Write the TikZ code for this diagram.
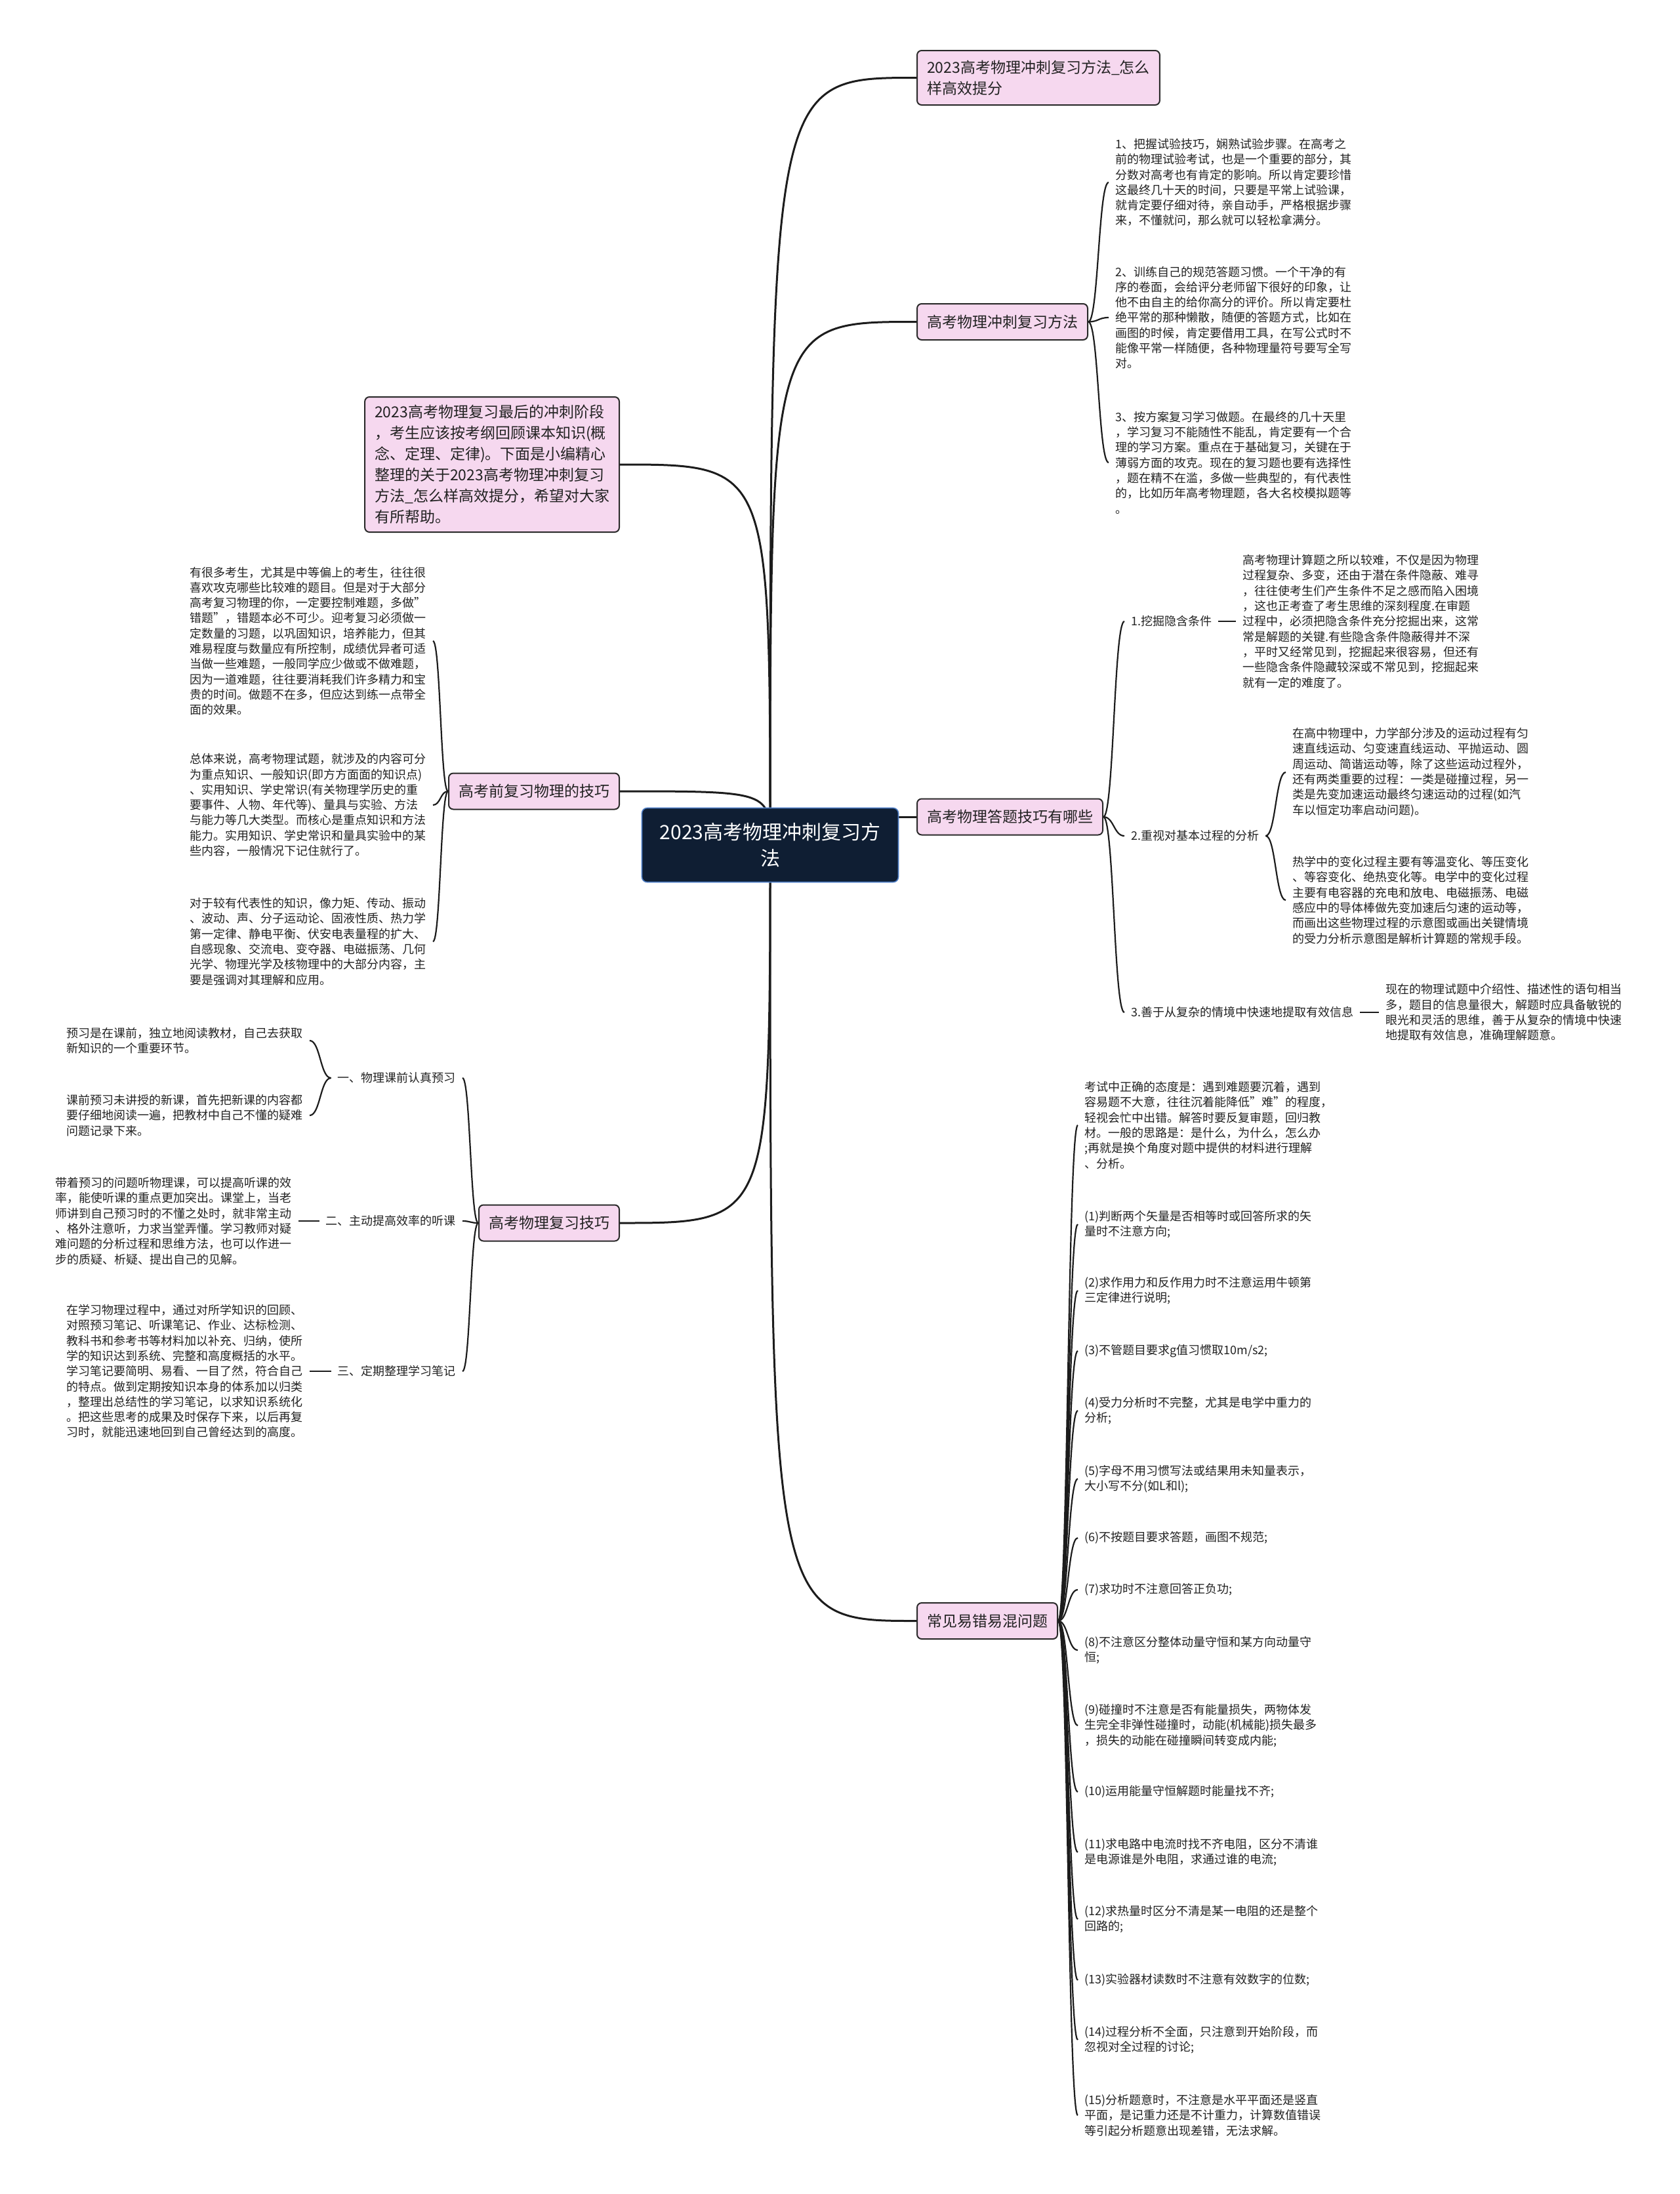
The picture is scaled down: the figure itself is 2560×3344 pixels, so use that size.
\documentclass[tikz,border=0pt]{standalone}
\usepackage{fontspec}
\setmainfont{Noto Sans CJK SC}
\usetikzlibrary{calc}
\pgfdeclarelayer{bg}
\pgfsetlayers{bg,main}
\definecolor{pinkfill}{HTML}{F6D8EF}
\definecolor{boxline}{HTML}{2A2A2A}
\definecolor{rootfill}{HTML}{0F1E33}
\definecolor{rootline}{HTML}{4C7CC4}
\definecolor{edgecol}{HTML}{1C1C1C}
\definecolor{txt}{HTML}{222222}
\tikzset{
  branchbox/.style={draw=boxline, fill=pinkfill, line width=2pt, rounded corners=7pt,
    inner xsep=15pt, inner ysep=0pt, minimum height=55pt, align=left,
    font=\fontsize{23}{32}\selectfont, text=txt},
  rootbox/.style={draw=rootline, fill=rootfill, line width=1.6pt, rounded corners=8pt,
    text=white, font=\fontsize{30}{40}\selectfont, align=center,
    minimum width=391pt, minimum height=113pt, inner sep=0pt},
  leaf/.style={inner xsep=10pt, inner ysep=2pt, align=left,
    font=\fontsize{18}{23.3}\selectfont, text=txt},
  sublbl/.style={inner xsep=10pt, inner ysep=2pt, font=\fontsize{18}{23.3}\selectfont, text=txt},
  mainedge/.style={draw=edgecol, line width=3pt},
  subedge/.style={draw=edgecol, line width=2.2pt},
}
\newcommand\sbr[2]{\draw[subedge] let \p1=(#1), \p2=(#2) in (\p1) .. controls ({(\x1+\x2)/2},\y1) and ({(\x1+\x2)/2},\y2) .. (\p2);}
\newcommand\mbr[2]{\draw[mainedge] (#1) .. controls (#1 |- #2) .. (#2);}
\begin{document}
\begin{tikzpicture}[x=1pt,y=-1pt]
\begin{pgfonlayer}{bg}
\fill[white] (0,0) rectangle (2560,3344);
\end{pgfonlayer}
\useasboundingbox (0,0) rectangle (2560,3344);

% root
\node[rootbox] (root) at (1174,1288) {2023高考物理冲刺复习方\\法};

% right branches
\node[branchbox, anchor=west, minimum height=83pt] (r1) at (1397,118.5) {2023高考物理冲刺复习方法\_怎么\\样高效提分};
\node[branchbox, anchor=west] (r2) at (1397,490.5) {高考物理冲刺复习方法};
\node[branchbox, anchor=west] (r3) at (1397,1245) {高考物理答题技巧有哪些};
\node[branchbox, anchor=west] (r4) at (1397,2470.5) {常见易错易混问题};

% left branches
\node[branchbox, anchor=east, minimum height=206pt] (l1) at (945,708) {2023高考物理复习最后的冲刺阶段\\
，考生应该按考纲回顾课本知识(概\\
念、定理、定律)。下面是小编精心\\
整理的关于2023高考物理冲刺复习\\
方法\_怎么样高效提分，希望对大家\\
有所帮助。};
\node[branchbox, anchor=east] (l2) at (945,1206) {高考前复习物理的技巧};
\node[branchbox, anchor=east] (l3) at (945,1864) {高考物理复习技巧};

% R2 leaves
\node[leaf, anchor=west] (t1) at (1690,278) {1、把握试验技巧，娴熟试验步骤。在高考之\\
前的物理试验考试，也是一个重要的部分，其\\
分数对高考也有肯定的影响。所以肯定要珍惜\\
这最终几十天的时间，只要是平常上试验课，\\
就肯定要仔细对待，亲自动手，严格根据步骤\\
来，不懂就问，那么就可以轻松拿满分。};
\node[leaf, anchor=west] (t2) at (1690,484) {2、训练自己的规范答题习惯。一个干净的有\\
序的卷面，会给评分老师留下很好的印象，让\\
他不由自主的给你高分的评价。所以肯定要杜\\
绝平常的那种懒散，随便的答题方式，比如在\\
画图的时候，肯定要借用工具，在写公式时不\\
能像平常一样随便，各种物理量符号要写全写\\
对。};
\node[leaf, anchor=west] (t3) at (1690,705) {3、按方案复习学习做题。在最终的几十天里\\
，学习复习不能随性不能乱，肯定要有一个合\\
理的学习方案。重点在于基础复习，关键在于\\
薄弱方面的攻克。现在的复习题也要有选择性\\
，题在精不在滥，多做一些典型的，有代表性\\
的，比如历年高考物理题，各大名校模拟题等\\
。};

% R3 labels and leaves
\node[sublbl, anchor=west] (s1) at (1714,947) {1.挖掘隐含条件};
\node[sublbl, anchor=west] (s2) at (1714,1274) {2.重视对基本过程的分析};
\node[sublbl, anchor=west] (s3) at (1714,1543) {3.善于从复杂的情境中快速地提取有效信息};
\node[leaf, anchor=west] (u1) at (1884,947) {高考物理计算题之所以较难，不仅是因为物理\\
过程复杂、多变，还由于潜在条件隐蔽、难寻\\
，往往使考生们产生条件不足之感而陷入困境\\
，这也正考查了考生思维的深刻程度.在审题\\
过程中，必须把隐含条件充分挖掘出来，这常\\
常是解题的关键.有些隐含条件隐蔽得并不深\\
，平时又经常见到，挖掘起来很容易，但还有\\
一些隐含条件隐藏较深或不常见到，挖掘起来\\
就有一定的难度了。};
\node[leaf, anchor=west] (u2a) at (1960,1177) {在高中物理中，力学部分涉及的运动过程有匀\\
速直线运动、匀变速直线运动、平抛运动、圆\\
周运动、简谐运动等，除了这些运动过程外，\\
还有两类重要的过程：一类是碰撞过程，另一\\
类是先变加速运动最终匀速运动的过程(如汽\\
车以恒定功率启动问题)。};
\node[leaf, anchor=west] (u2b) at (1960,1372) {热学中的变化过程主要有等温变化、等压变化\\
、等容变化、绝热变化等。电学中的变化过程\\
主要有电容器的充电和放电、电磁振荡、电磁\\
感应中的导体棒做先变加速后匀速的运动等，\\
而画出这些物理过程的示意图或画出关键情境\\
的受力分析示意图是解析计算题的常规手段。};
\node[leaf, anchor=west] (u3) at (2102,1543) {现在的物理试题中介绍性、描述性的语句相当\\
多，题目的信息量很大，解题时应具备敏锐的\\
眼光和灵活的思维，善于从复杂的情境中快速\\
地提取有效信息，准确理解题意。};

% R4 leaves
\node[leaf, anchor=west] (w0) at (1643,1715) {考试中正确的态度是：遇到难题要沉着，遇到\\
容易题不大意，往往沉着能降低"难"的程度，\\
轻视会忙中出错。解答时要反复审题，回归教\\
材。一般的思路是：是什么，为什么，怎么办\\
;再就是换个角度对题中提供的材料进行理解\\
、分析。};
\node[leaf, anchor=west] (w1) at (1643,1866) {(1)判断两个矢量是否相等时或回答所求的矢\\
量时不注意方向;};
\node[leaf, anchor=west] (w2) at (1643,1967) {(2)求作用力和反作用力时不注意运用牛顿第\\
三定律进行说明;};
\node[leaf, anchor=west] (w3) at (1643,2059) {(3)不管题目要求g值习惯取10m/s2;};
\node[leaf, anchor=west] (w4) at (1643,2150) {(4)受力分析时不完整，尤其是电学中重力的\\
分析;};
\node[leaf, anchor=west] (w5) at (1643,2254) {(5)字母不用习惯写法或结果用未知量表示，\\
大小写不分(如L和l);};
\node[leaf, anchor=west] (w6) at (1643,2344) {(6)不按题目要求答题，画图不规范;};
\node[leaf, anchor=west] (w7) at (1643,2423) {(7)求功时不注意回答正负功;};
\node[leaf, anchor=west] (w8) at (1643,2515) {(8)不注意区分整体动量守恒和某方向动量守\\
恒;};
\node[leaf, anchor=west] (w9) at (1643,2630) {(9)碰撞时不注意是否有能量损失，两物体发\\
生完全非弹性碰撞时，动能(机械能)损失最多\\
，损失的动能在碰撞瞬间转变成内能;};
\node[leaf, anchor=west] (w10) at (1643,2731) {(10)运用能量守恒解题时能量找不齐;};
\node[leaf, anchor=west] (w11) at (1643,2823) {(11)求电路中电流时找不齐电阻，区分不清谁\\
是电源谁是外电阻，求通过谁的电流;};
\node[leaf, anchor=west] (w12) at (1643,2925) {(12)求热量时区分不清是某一电阻的还是整个\\
回路的;};
\node[leaf, anchor=west] (w13) at (1643,3018) {(13)实验器材读数时不注意有效数字的位数;};
\node[leaf, anchor=west] (w14) at (1643,3109) {(14)过程分析不全面，只注意到开始阶段，而\\
忽视对全过程的讨论;};
\node[leaf, anchor=west] (w15) at (1643,3224) {(15)分析题意时，不注意是水平平面还是竖直\\
平面，是记重力还是不计重力，计算数值错误\\
等引起分析题意出现差错，无法求解。};

% L2 leaves
\node[leaf, anchor=east] (a1) at (660,977) {有很多考生，尤其是中等偏上的考生，往往很\\
喜欢攻克哪些比较难的题目。但是对于大部分\\
高考复习物理的你，一定要控制难题，多做"\\
错题"，错题本必不可少。迎考复习必须做一\\
定数量的习题，以巩固知识，培养能力，但其\\
难易程度与数量应有所控制，成绩优异者可适\\
当做一些难题，一般同学应少做或不做难题，\\
因为一道难题，往往要消耗我们许多精力和宝\\
贵的时间。做题不在多，但应达到练一点带全\\
面的效果。};
\node[leaf, anchor=east] (a2) at (660,1227) {总体来说，高考物理试题，就涉及的内容可分\\
为重点知识、一般知识(即方方面面的知识点)\\
、实用知识、学史常识(有关物理学历史的重\\
要事件、人物、年代等)、量具与实验、方法\\
与能力等几大类型。而核心是重点知识和方法\\
能力。实用知识、学史常识和量具实验中的某\\
些内容，一般情况下记住就行了。};
\node[leaf, anchor=east] (a3) at (660,1435) {对于较有代表性的知识，像力矩、传动、振动\\
、波动、声、分子运动论、固液性质、热力学\\
第一定律、静电平衡、伏安电表量程的扩大、\\
自感现象、交流电、变夺器、电磁振荡、几何\\
光学、物理光学及核物理中的大部分内容，主\\
要是强调对其理解和应用。};

% L3 labels and leaves
\node[sublbl, anchor=east] (k1) at (705,1643) {一、物理课前认真预习};
\node[sublbl, anchor=east] (k2) at (705,1861) {二、主动提高效率的听课};
\node[sublbl, anchor=east] (k3) at (705,2090) {三、定期整理学习笔记};
\node[leaf, anchor=east] (m1a) at (472,1586) {预习是在课前，独立地阅读教材，自己去获取\\
新知识的一个重要环节。};
\node[leaf, anchor=east] (m1b) at (472,1700) {课前预习未讲授的新课，首先把新课的内容都\\
要仔细地阅读一遍，把教材中自己不懂的疑难\\
问题记录下来。};
\node[leaf, anchor=east] (m2) at (455,1861) {带着预习的问题听物理课，可以提高听课的效\\
率，能使听课的重点更加突出。课堂上，当老\\
师讲到自己预习时的不懂之处时，就非常主动\\
、格外注意听，力求当堂弄懂。学习教师对疑\\
难问题的分析过程和思维方法，也可以作进一\\
步的质疑、析疑、提出自己的见解。};
\node[leaf, anchor=east] (m3) at (472,2090) {在学习物理过程中，通过对所学知识的回顾、\\
对照预习笔记、听课笔记、作业、达标检测、\\
教科书和参考书等材料加以补充、归纳，使所\\
学的知识达到系统、完整和高度概括的水平。\\
学习笔记要简明、易看、一目了然，符合自己\\
的特点。做到定期按知识本身的体系加以归类\\
，整理出总结性的学习笔记，以求知识系统化\\
。把这些思考的成果及时保存下来，以后再复\\
习时，就能迅速地回到自己曾经达到的高度。};

% connectors
\begin{pgfonlayer}{bg}
\mbr{root.center}{r1.west}
\mbr{root.center}{r2.west}
\draw[mainedge] (root.east |- r3.west) -- (r3.west);
\mbr{root.center}{r4.west}
\mbr{root.center}{l1.east}
\mbr{root.center}{l2.east}
\mbr{root.center}{l3.east}
\sbr{r2.east}{t1.west}
\sbr{r2.east}{t2.west}
\sbr{r2.east}{t3.west}
\sbr{r3.east}{s1.west}
\sbr{r3.east}{s2.west}
\sbr{r3.east}{s3.west}
\draw[subedge] (s1.east) -- (u1.west);
\sbr{s2.east}{u2a.west}
\sbr{s2.east}{u2b.west}
\draw[subedge] (s3.east) -- (u3.west);
\foreach \i in {0,...,15} {\sbr{r4.east}{w\i.west}}
\sbr{l2.west}{a1.east}
\sbr{l2.west}{a2.east}
\sbr{l2.west}{a3.east}
\sbr{l3.west}{k1.east}
\sbr{l3.west}{k2.east}
\sbr{l3.west}{k3.east}
\sbr{k1.west}{m1a.east}
\sbr{k1.west}{m1b.east}
\draw[subedge] (k2.west) -- (m2.east);
\draw[subedge] (k3.west) -- (m3.east);
\end{pgfonlayer}
\end{tikzpicture}
\end{document}
